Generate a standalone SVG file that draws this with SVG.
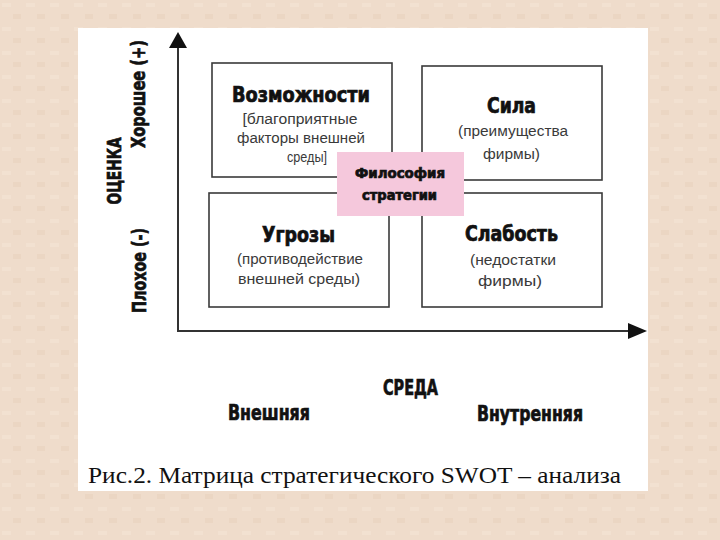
<svg xmlns="http://www.w3.org/2000/svg" width="720" height="540" viewBox="0 0 720 540">
<style>
.box{fill:#fff;stroke:#3a3a3a;stroke-width:1.6}
.ttl{font-family:"DejaVu Sans Condensed","DejaVu Sans",sans-serif;font-weight:bold;fill:#111;stroke:#111;stroke-width:0.7;text-anchor:middle}
.sub{font-family:"Liberation Sans",Arial,sans-serif;font-size:14px;fill:#3a3a3a;text-anchor:middle}
.ax{stroke:#333;stroke-width:2;fill:none}
</style>
<defs>
<pattern id="bg" width="24" height="24" patternUnits="userSpaceOnUse">
<rect width="24" height="24" fill="#efdccb"/>
<rect x="2" y="3" width="9" height="4" fill="#f2e1d1"/>
<rect x="13" y="14" width="8" height="5" fill="#ebd6c3"/>
</pattern>
</defs>
<rect width="720" height="540" fill="url(#bg)"/>
<rect x="78" y="28" width="570" height="463" fill="#fff"/>

<g id="connectors">
<line class="ax" x1="178" y1="46" x2="178" y2="332"/>
<polygon points="178,32 169,48 187,48" fill="#111"/>
<line class="ax" x1="177" y1="331" x2="630" y2="331"/>
<polygon points="647,331 628,323 628,339" fill="#111"/>
</g>

<g id="opportunities">
<rect class="box" x="212" y="63" width="180" height="114"/>
<text class="ttl" x="301" y="102" font-size="21" textLength="138" lengthAdjust="spacingAndGlyphs">Возможности</text>
<text class="sub" x="300" y="124" textLength="115" lengthAdjust="spacingAndGlyphs">[благоприятные</text>
<text class="sub" x="301" y="143" textLength="128" lengthAdjust="spacingAndGlyphs">факторы внешней</text>
<text class="sub" x="307" y="162" textLength="40" lengthAdjust="spacingAndGlyphs">среды]</text>
</g>

<g id="strength">
<rect class="box" x="422" y="66" width="180" height="114"/>
<text class="ttl" x="511.5" y="113" font-size="22" textLength="49" lengthAdjust="spacingAndGlyphs">Сила</text>
<text class="sub" x="513" y="136" textLength="110" lengthAdjust="spacingAndGlyphs">(преимущества</text>
<text class="sub" x="511.5" y="159" textLength="57" lengthAdjust="spacingAndGlyphs">фирмы)</text>
</g>

<g id="threats">
<rect class="box" x="209" y="193" width="180" height="114"/>
<text class="ttl" x="298.5" y="242" font-size="21" textLength="73" lengthAdjust="spacingAndGlyphs">Угрозы</text>
<text class="sub" x="300" y="264" textLength="126" lengthAdjust="spacingAndGlyphs">(противодействие</text>
<text class="sub" x="299" y="284" textLength="122" lengthAdjust="spacingAndGlyphs">внешней среды)</text>
</g>

<g id="weakness">
<rect class="box" x="422" y="193" width="180" height="114"/>
<text class="ttl" x="511.5" y="241" font-size="21" textLength="93" lengthAdjust="spacingAndGlyphs">Слабость</text>
<text class="sub" x="513" y="265" textLength="86" lengthAdjust="spacingAndGlyphs">(недостатки</text>
<text class="sub" x="510" y="286" textLength="64" lengthAdjust="spacingAndGlyphs">фирмы)</text>
</g>

<g id="philosophy">
<rect x="337" y="152" width="127" height="64" fill="#f5c8dc"/>
<text class="ttl" x="400" y="178" font-size="14" stroke-width="0.4" textLength="90" lengthAdjust="spacingAndGlyphs">Философия</text>
<text class="ttl" x="399.5" y="200" font-size="14" stroke-width="0.4" textLength="75" lengthAdjust="spacingAndGlyphs">стратегии</text>
</g>

<g id="axis-labels">
<text class="ttl" transform="translate(145,94) rotate(-90)" font-size="19" textLength="108" lengthAdjust="spacingAndGlyphs">Хорошее (+)</text>
<text class="ttl" transform="translate(121,171) rotate(-90)" font-size="20" textLength="67" lengthAdjust="spacingAndGlyphs">ОЦЕНКА</text>
<text class="ttl" transform="translate(146,270.5) rotate(-90)" font-size="19" textLength="85" lengthAdjust="spacingAndGlyphs">Плохое (-)</text>
<text class="ttl" x="410.5" y="395" font-size="22" textLength="55" lengthAdjust="spacingAndGlyphs">СРЕДА</text>
<text class="ttl" x="269" y="420" font-size="22" textLength="82" lengthAdjust="spacingAndGlyphs">Внешняя</text>
<text class="ttl" x="530" y="421" font-size="22" textLength="106" lengthAdjust="spacingAndGlyphs">Внутренняя</text>
</g>

<text x="88" y="483" font-family="'Liberation Serif','Times New Roman',serif" font-size="23" fill="#111" textLength="533" lengthAdjust="spacingAndGlyphs">Рис.2. Матрица стратегического SWOT – анализа</text>
</svg>
